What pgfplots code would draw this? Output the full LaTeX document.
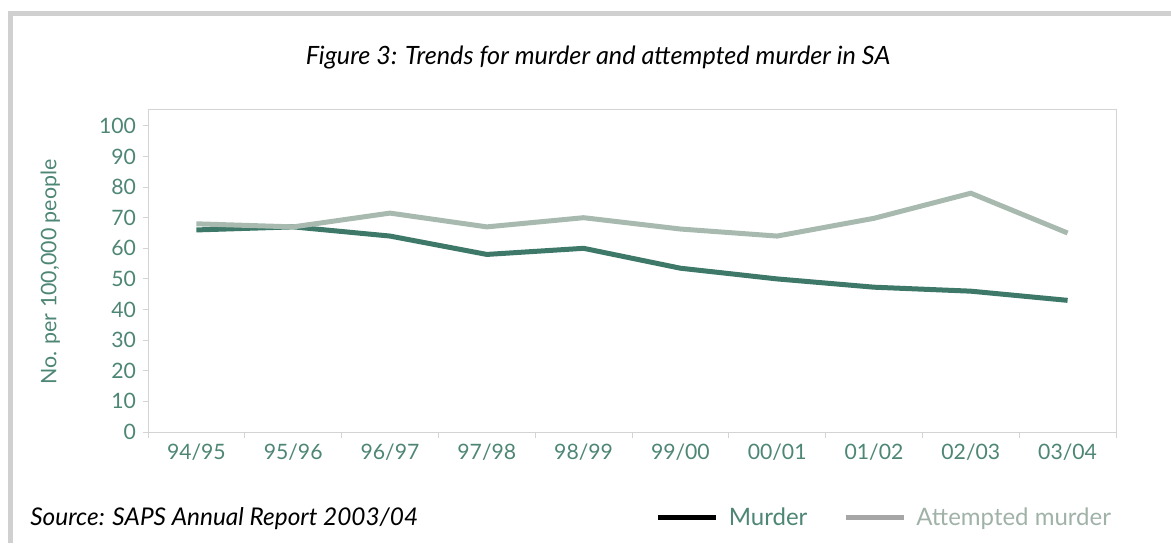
\documentclass[border=0pt]{standalone}
\usepackage{fontspec}
\setmainfont{Lato}
\usepackage{pgfplots}
\pgfplotsset{compat=1.18}
\definecolor{teallab}{RGB}{78,134,118}
\definecolor{murline}{RGB}{62,120,104}
\definecolor{attline}{RGB}{168,186,176}
\definecolor{atttext}{RGB}{160,178,168}
\definecolor{leggray}{RGB}{166,166,166}
\definecolor{framegray}{RGB}{208,208,208}
\definecolor{axgray}{RGB}{212,212,212}
\begin{document}
\begin{tikzpicture}
\useasboundingbox (0,0) rectangle (585.5pt,271.5pt);
\draw[framegray, line width=2.5pt] (5.25pt,0) -- (5.25pt,264.75pt) -- (585.5pt,264.75pt);
\node[font=\itshape\fontsize{12.6}{14}\selectfont] at (299pt,242.5pt) {Figure 3: Trends for murder and attempted murder in SA};
\node[anchor=west, inner sep=0pt, font=\itshape\fontsize{12.2}{14}\selectfont] at (15pt,12pt) {Source: SAPS Annual Report 2003/04};
\begin{axis}[
  at={(74pt,55.5pt)}, anchor=south west,
  width=484pt, height=161.5pt, scale only axis,
  xmin=-0.5, xmax=9.5, ymin=0, ymax=105.5,
  axis line style={axgray, line width=0.5pt},
  ytick={0,10,...,100},
  xtick={0,...,9},
  xticklabels={94/95,95/96,96/97,97/98,98/99,99/00,00/01,01/02,02/03,03/04},
  minor xtick={-0.5,0.5,...,9.5},
  tick align=outside,
  major tick length=2.5pt, minor tick length=3pt,
  every major x tick/.style={draw=none},
  every minor x tick/.style={axgray, line width=0.5pt},
  every major y tick/.style={axgray, line width=0.5pt},
  xtick pos=bottom, ytick pos=left,
  ticklabel style={font=\fontsize{10.6}{12}\selectfont, text=teallab},
  /pgf/number format/assume math mode=true,
  ylabel={No. per 100,000 people},
  ylabel style={at={(axis description cs:-0.101,0.495)}, anchor=center, font=\fontsize{10.7}{12}\selectfont, text=teallab},
  legend style={draw=none, fill=none, at={(axis description cs:0.518,-0.266)}, anchor=west,
    legend columns=2, font=\fontsize{12}{14}\selectfont,
    /tikz/every odd column/.append style={column sep=3pt},
    /tikz/every even column/.append style={column sep=16pt}},
  legend image code/.code={\draw[#1] (0pt,0pt) -- (29pt,0pt);},
]
\addplot[murline, line width=2.5pt, forget plot] coordinates {
(0,66) (1,67) (2,64) (3,58) (4,60) (5,53.5) (6,50) (7,47.3) (8,46) (9,43)};
\addplot[attline, line width=2.5pt, forget plot] coordinates {
(0,68) (1,67) (2,71.5) (3,67) (4,70) (5,66.3) (6,64) (7,69.8) (8,78) (9,65)};
\addlegendimage{black, line width=2.5pt}
\addlegendentry{\textcolor{teallab}{Murder}}
\addlegendimage{leggray, line width=2.5pt}
\addlegendentry{\textcolor{atttext}{Attempted murder}}
\end{axis}
\end{tikzpicture}
\end{document}
